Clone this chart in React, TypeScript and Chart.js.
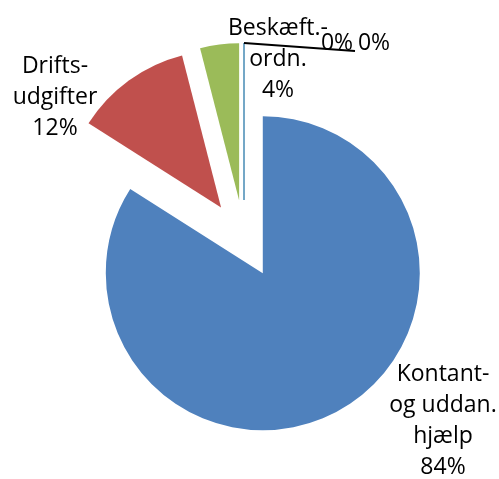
import React, { useEffect, useRef } from "react";
import { Chart, registerables } from "chart.js";

Chart.register(...registerables);

// ---- data ----
const categories: string[] = [
  "Kontant-\nog uddan.\nhjælp",
  "Drifts-\nudgifter",
  "Beskæft.-\nordn.",
  "",
  "",
];
const shares: number[] = [84, 12, 4, 0, 0];
const sliceColors: string[] = ["#4F81BD", "#C0504D", "#9BBB59", "#8064A2", "#4BACC6"];

// ---- layout / style ----
const W = 499;
const H = 479;
const EXPLODE = 39;
const RADIUS = 157;
const FONT = "23px 'Open Sans', 'Noto Sans', sans-serif";
const LINE_H = 31;
// label anchors: [centerX, firstBaselineY]
const labelAnchors: [number, number][] = [
  [443, 381],
  [55, 73],
  [278, 35],
  [337, 50],
  [374, 50],
];
const leaderIndex = 3;
const leaderEnd: [number, number] = [355, 51];

const explodedPie = {
  id: "explodedPie",
  beforeDatasetDraw(chart: any, args: any) {
    const ctx: CanvasRenderingContext2D = chart.ctx;
    const meta = args.meta;
    const total = shares.reduce((a, b) => a + b, 0);
    const outer: [number, number][] = [];
    meta.data.forEach((arc: any, i: number) => {
      const { x, y, startAngle, endAngle, outerRadius } = arc;
      const mid = (startAngle + endAngle) / 2;
      const cx = x + Math.cos(mid) * EXPLODE;
      const cy = y + Math.sin(mid) * EXPLODE;
      outer[i] = [cx + Math.cos(endAngle) * outerRadius, cy + Math.sin(endAngle) * outerRadius];
      ctx.save();
      if (endAngle - startAngle > 1e-6) {
        ctx.beginPath();
        ctx.moveTo(cx, cy);
        ctx.arc(cx, cy, outerRadius, startAngle, endAngle);
        ctx.closePath();
        ctx.fillStyle = sliceColors[i];
        ctx.fill();
      } else {
        ctx.beginPath();
        ctx.moveTo(cx, cy);
        ctx.lineTo(cx + Math.cos(startAngle) * outerRadius, cy + Math.sin(startAngle) * outerRadius);
        ctx.strokeStyle = sliceColors[i];
        ctx.lineWidth = 1.2;
        ctx.stroke();
      }
      ctx.restore();
    });

    // leader line
    ctx.save();
    ctx.beginPath();
    ctx.moveTo(outer[leaderIndex][0], outer[leaderIndex][1]);
    ctx.lineTo(leaderEnd[0], leaderEnd[1]);
    ctx.strokeStyle = "#000";
    ctx.lineWidth = 1.8;
    ctx.stroke();
    ctx.restore();

    // labels
    ctx.save();
    ctx.font = FONT;
    ctx.fillStyle = "#000";
    ctx.textAlign = "center";
    ctx.textBaseline = "alphabetic";
    categories.forEach((name, i) => {
      const pct = Math.round((shares[i] / total) * 100) + "%";
      const lines = (name ? name.split("\n") : []).concat([pct]);
      const [lx, ly] = labelAnchors[i];
      lines.forEach((ln, k) => ctx.fillText(ln, lx, ly + k * LINE_H));
    });
    ctx.restore();
    return false;
  },
};

export default function App() {
  const ref = useRef<HTMLCanvasElement>(null);
  useEffect(() => {
    if (!ref.current) return;
    const chart = new Chart(ref.current, {
      type: "pie",
      data: {
        labels: categories,
        datasets: [{ data: shares, backgroundColor: sliceColors, borderWidth: 0 }],
      },
      options: {
        responsive: false,
        animation: false,
        events: [],
        radius: RADIUS,
        layout: { padding: { left: 0, right: 11, top: 0, bottom: 1 } },
        plugins: { legend: { display: false }, tooltip: { enabled: false } },
      } as any,
      plugins: [explodedPie],
    });
    return () => chart.destroy();
  }, []);
  return (
    <div style={{ position: "fixed", left: 0, top: 0, width: W, height: H, background: "#fff" }}>
      <canvas ref={ref} width={W} height={H} />
    </div>
  );
}
